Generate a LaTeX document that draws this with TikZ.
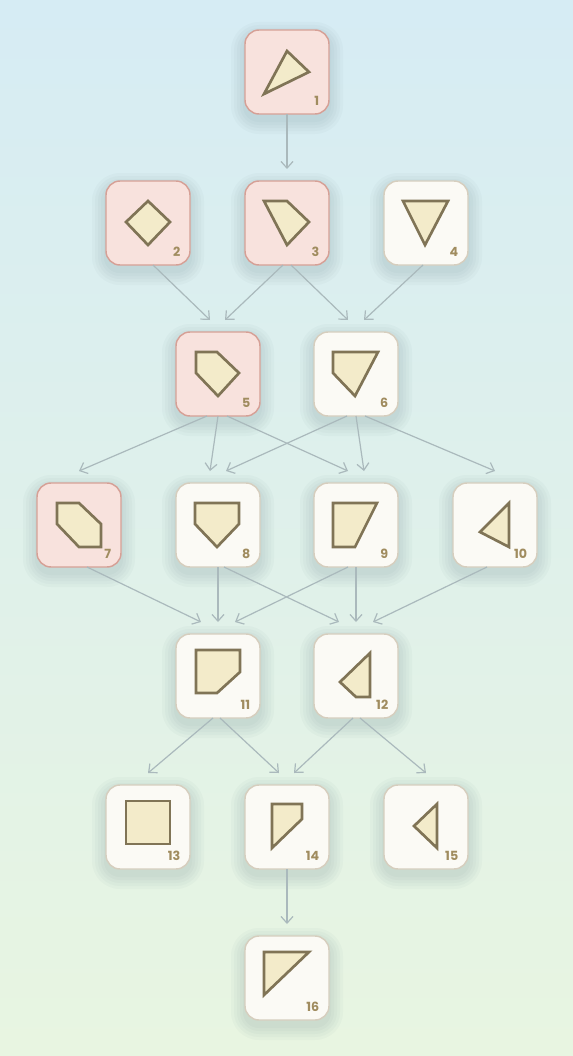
\documentclass[tikz,border=0pt]{standalone}
\usepackage{fontspec}
\setsansfont{Poppins}
\usetikzlibrary{arrows.meta}

\definecolor{skytop}{HTML}{D6ECF4}
\definecolor{skymid}{HTML}{DCEFEC}
\definecolor{meadow}{HTML}{E8F5E1}
\definecolor{hotfill}{HTML}{F8E2DD}
\definecolor{hotline}{HTML}{D6A096}
\definecolor{coldfill}{HTML}{FBFAF5}
\definecolor{coldline}{HTML}{D6CEBE}
\definecolor{piecefill}{HTML}{F3EBCA}
\definecolor{pieceline}{HTML}{807456}
\definecolor{numcol}{HTML}{A08C5F}
\definecolor{linkcol}{HTML}{AAB9BC}
\definecolor{shadecol}{HTML}{4E6E74}

\begin{document}
\begin{tikzpicture}[x=0.75pt,y=-0.75pt,
    box/.style={rectangle,rounded corners=10.5pt,minimum size=63pt,inner sep=0pt,outer sep=0pt,line width=1.1pt},
    hot/.style={box,draw=hotline,fill=hotfill},
    cold/.style={box,draw=coldline,fill=coldfill},
    halo/.style={fill=shadecol,opacity=0.035},
    piece/.style={draw=pieceline,fill=piecefill,line width=2pt},
    num/.style={anchor=base east,inner sep=0pt,text=numcol,font=\sffamily\bfseries\fontsize{9.5}{10}\selectfont},
    link/.style={draw=linkcol,line width=0.9pt,-{Straight Barb[length=5pt,width=9pt]}}]
    \useasboundingbox (0,0) rectangle (573,1056);
    \shade[top color=skytop,middle color=skymid,bottom color=meadow] (0,0) rectangle (573,1056);

    % the sixteen boxes, each on a soft shadow
    \foreach \n/\x/\y/\k in {1/287/72/hot, 2/148/223/hot, 3/287/223/hot, 4/426/223/cold,
        5/218/374/hot, 6/356/374/cold, 7/79/525/hot, 8/218/525/cold, 9/356/525/cold, 10/495/525/cold,
        11/218/676/cold, 12/356/676/cold, 13/148/827/cold, 14/287/827/cold, 15/426/827/cold, 16/287/978/cold}{
        \foreach \r in {2,5,8,11,14}
            \fill[halo,rounded corners={(10.5+0.75*\r)*1pt}] (\x-42-\r,\y-42-\r+6) rectangle (\x+42+\r,\y+42+\r+6);
        \node[\k] (n\n) at (\x,\y) {};
    }
    \foreach \n in {1,...,16}
        \node[num] (l\n) at ([shift={(-9.5,-8.5)}]n\n.south east) {\n};

    % pieces
    \draw[piece,shift={(n1.north west)}] (42,21) -- (64,42) -- (19,64) -- cycle;
    \draw[piece,shift={(n2.north west)}] (42,20) -- (64,41) -- (42,64) -- (20,41) -- cycle;
    \draw[piece,shift={(n3.north west)}] (19,20) -- (42,20) -- (64,41) -- (42,64) -- cycle;
    \draw[piece,shift={(n4.north west)}] (19,20) -- (64,20) -- (41,64) -- cycle;
    \draw[piece,shift={(n5.north west)}] (20,20) -- (41,20) -- (63,41) -- (42,64) -- (20,41) -- cycle;
    \draw[piece,shift={(n6.north west)}] (19,20) -- (64,20) -- (41,64) -- (19,41) -- cycle;
    \draw[piece,shift={(n7.north west)}] (20,20) -- (42,20) -- (64,41) -- (64,64) -- (42,64) -- (20,41) -- cycle;
    \draw[piece,shift={(n8.north west)}] (19,20) -- (63,20) -- (63,41) -- (41,64) -- (19,41) -- cycle;
    \draw[piece,shift={(n9.north west)}] (19,20) -- (63,20) -- (41,64) -- (19,64) -- cycle;
    \draw[piece,shift={(n10.north west)}] (56,20) -- (56,64) -- (27,49) -- cycle;
    \draw[piece,shift={(n11.north west)}] (20,16) -- (64,16) -- (64,38) -- (41,59) -- (20,59) -- cycle;
    \draw[piece,shift={(n12.north west)}] (56,19) -- (56,63) -- (42,63) -- (26,48) -- cycle;
    \draw[piece,shift={(n13.north west)}] (20,16) -- (64,16) -- (64,59) -- (20,59) -- cycle;
    \draw[piece,shift={(n14.north west)}] (27,19) -- (57,19) -- (57,34) -- (27,63) -- cycle;
    \draw[piece,shift={(n15.north west)}] (53,19) -- (53,63) -- (30,41) -- cycle;
    \draw[piece,shift={(n16.north west)}] (19,16) -- (64,16) -- (19,59) -- cycle;

    % links
    \draw[link] (n1.south) -- ([shift={(0,-12)}]n3.north);
    \draw[link] ([shift={(5,0)}]n2.south) -- ([shift={(-8,-12)}]n5.north);
    \draw[link] ([shift={(-4,0)}]n3.south) -- ([shift={(7,-12)}]n5.north);
    \draw[link] ([shift={(4,0)}]n3.south) -- ([shift={(-8,-12)}]n6.north);
    \draw[link] ([shift={(-3,0)}]n4.south) -- ([shift={(8,-12)}]n6.north);
    \draw[link] ([shift={(-11,0)}]n5.south) -- ([shift={(0,-12)}]n7.north);
    \draw[link] (n5.south) -- ([shift={(-8,-12)}]n8.north);
    \draw[link] ([shift={(9,0)}]n5.south) -- ([shift={(-8,-12)}]n9.north);
    \draw[link] ([shift={(-9,0)}]n6.south) -- ([shift={(8,-12)}]n8.north);
    \draw[link] (n6.south) -- ([shift={(8,-12)}]n9.north);
    \draw[link] ([shift={(9,0)}]n6.south) -- ([shift={(0,-12)}]n10.north);
    \draw[link] ([shift={(8,0)}]n7.south) -- ([shift={(-17,-12)}]n11.north);
    \draw[link] (n8.south) -- ([shift={(0,-12)}]n11.north);
    \draw[link] ([shift={(6,0)}]n8.south) -- ([shift={(-17,-12)}]n12.north);
    \draw[link] ([shift={(-8,0)}]n9.south) -- ([shift={(17,-12)}]n11.north);
    \draw[link] (n9.south) -- ([shift={(0,-12)}]n12.north);
    \draw[link] ([shift={(-8,0)}]n10.south) -- ([shift={(17,-12)}]n12.north);
    \draw[link] ([shift={(-5,0)}]n11.south) -- ([shift={(0,-12)}]n13.north);
    \draw[link] ([shift={(2,0)}]n11.south) -- ([shift={(-8,-12)}]n14.north);
    \draw[link] ([shift={(-3,0)}]n12.south) -- ([shift={(7,-12)}]n14.north);
    \draw[link] ([shift={(4,0)}]n12.south) -- ([shift={(0,-12)}]n15.north);
    \draw[link] (n14.south) -- ([shift={(0,-12)}]n16.north);
\end{tikzpicture}
\end{document}
